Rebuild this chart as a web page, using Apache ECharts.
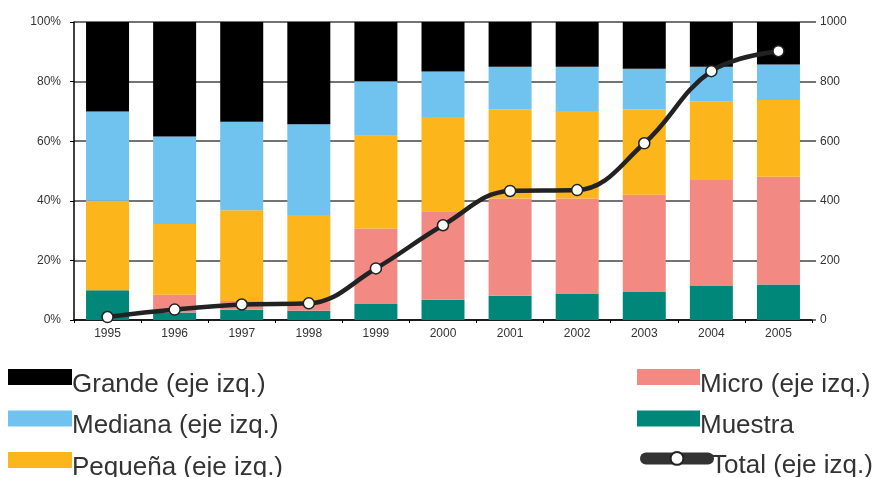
<!DOCTYPE html>
<html>
<head>
<meta charset="utf-8">
<script src="https://cdn.jsdelivr.net/npm/echarts@6/dist/echarts.min.js"></script>
<style>html,body{margin:0;padding:0;background:#fff}#c{width:879px;height:477px}</style>
</head>
<body>
<div id="c"></div>
<script>
var categories = ['1995','1996','1997','1998','1999','2000','2001','2002','2003','2004','2005'];
var muestra = [10, 2.5, 3.4, 3.1, 5.4, 6.8, 8.1, 8.7, 9.4, 11.4, 11.9];
var micro   = [0, 6, 3, 3, 25.3, 29.7, 32.7, 32.1, 32.6, 35.6, 36.2];
var pequena = [30, 23.7, 30.4, 29.1, 31.1, 31.6, 29.8, 29.3, 28.6, 26.4, 25.7];
var mediana = [30, 29.4, 29.7, 30.5, 18.3, 15.3, 14.4, 14.9, 13.7, 11.6, 11.9];
var grande  = [30, 38.4, 33.5, 34.3, 19.9, 16.6, 15.0, 15.0, 15.7, 15.0, 14.3];
var total   = [10, 35, 52, 56, 173, 318, 433, 436, 593, 835, 902];
var leftTicks = [0, 20, 40, 60, 80, 100];
var rightTicks = [0, 200, 400, 600, 800, 1000];

var FONT = '"Liberation Sans", Arial, sans-serif';
var chart = echarts.init(document.getElementById('c'), null, {renderer: 'canvas'});

function bar(name, data, color) {
  return {name: name, type: 'bar', stack: 'share', data: data, barWidth: 43,
    itemStyle: {color: color}, yAxisIndex: 0, z: 2};
}
function legendText(leftPad) {
  return {fontFamily: FONT, fontSize: 26, color: '#333', padding: [0, 0, 0, leftPad],
    rich: {t: {fontFamily: FONT, fontSize: 26, color: '#333', padding: [15, 0, 0, 0]}}};
}
function fmt(name) { return '{t|' + name + '}'; }

chart.setOption({
  animation: false,
  backgroundColor: '#fff',
  grid: {left: 74, right: 67, top: 22, bottom: 157},
  legend: [
    {orient: 'vertical', left: 8, top: 369, height: 140, padding: 0, itemWidth: 64, itemHeight: 16, itemGap: 13,
      icon: 'rect', textStyle: legendText(-5), formatter: fmt, selectedMode: false,
      data: ['Grande (eje izq.)', 'Mediana (eje izq.)', 'Pequeña (eje izq.)']},
    {orient: 'vertical', left: 637, top: 369, height: 140, padding: 0, itemWidth: 63, itemHeight: 16, itemGap: 13,
      icon: 'rect', textStyle: legendText(-5), formatter: fmt, selectedMode: false,
      data: ['Micro (eje izq.)', 'Muestra']},
    {orient: 'vertical', left: 640, top: 451, height: 60, padding: 0, itemWidth: 62, itemHeight: 16,
      textStyle: legendText(-2), formatter: fmt, selectedMode: false,
      lineStyle: {width: 12, cap: 'round', color: '#333'},
      data: ['Total (eje izq.)']}
  ],
  xAxis: {
    type: 'category', data: categories,
    axisLine: {lineStyle: {color: '#000', width: 1.5}},
    axisTick: {show: true, length: 3, lineStyle: {color: '#000'}},
    axisLabel: {fontFamily: FONT, fontSize: 12, color: '#333', margin: 8}
  },
  yAxis: [
    {type: 'value', min: leftTicks[0], max: leftTicks[leftTicks.length - 1], interval: 20, position: 'left',
      axisLine: {show: true, lineStyle: {color: '#000', width: 1.5}},
      axisTick: {show: true, length: 4, lineStyle: {color: '#000'}},
      axisLabel: {formatter: '{value}%', fontFamily: FONT, fontSize: 12, color: '#333', margin: 13},
      splitLine: {show: true, lineStyle: {color: '#444', width: 1.5}}},
    {type: 'value', min: rightTicks[0], max: rightTicks[rightTicks.length - 1], interval: 200, position: 'right',
      axisLine: {show: false},
      axisTick: {show: true, length: 4, lineStyle: {color: '#444', width: 1.5}},
      axisLabel: {formatter: function (v) { return String(v); }, fontFamily: FONT, fontSize: 12, color: '#333', margin: 8},
      splitLine: {show: false}}
  ],
  series: [
    bar('Muestra', muestra, '#00877A'),
    bar('Micro (eje izq.)', micro, '#F28A83'),
    bar('Pequeña (eje izq.)', pequena, '#FCB51B'),
    bar('Mediana (eje izq.)', mediana, '#6FC3EE'),
    bar('Grande (eje izq.)', grande, '#000000'),
    {name: 'Total (eje izq.)', type: 'line', yAxisIndex: 1, data: total, smooth: 0.4,
      symbol: 'circle', symbolSize: 11, z: 5,
      lineStyle: {color: '#222', width: 4.5},
      itemStyle: {color: '#fff', borderColor: '#222', borderWidth: 1.5}}
  ]
});
</script>
</body>
</html>
